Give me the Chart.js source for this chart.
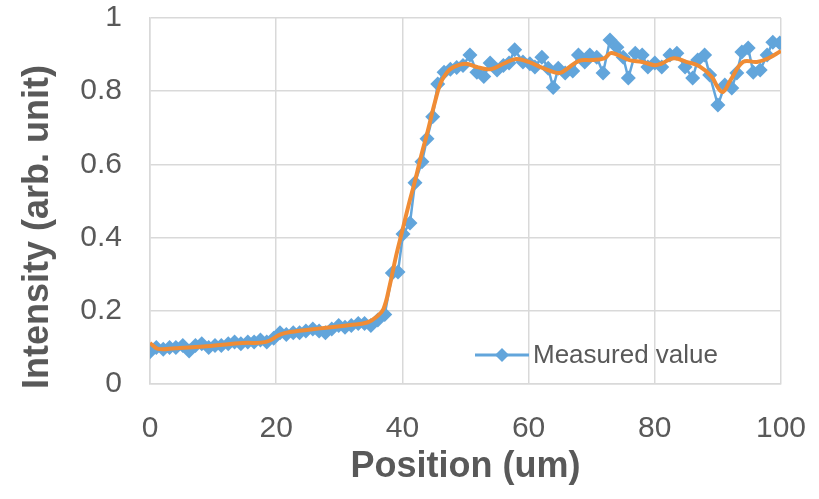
<!DOCTYPE html>
<html>
<head>
<meta charset="utf-8">
<script src="https://cdn.jsdelivr.net/npm/chart.js@4/dist/chart.umd.min.js"></script>
<style>
  html, body { margin: 0; padding: 0; background: #fff; }
  #wrap { width: 819px; height: 499px; position: relative; }
</style>
</head>
<body>
<div id="wrap"><canvas id="profile" width="819" height="499"></canvas></div>
<script>
// measured profile
const positions = [
  0, 1.0, 2.1, 3.1, 4.1, 5.2, 6.2, 7.2, 8.2, 9.3, 10.3, 11.3, 12.4, 13.4, 14.4, 15.5,
  16.5, 17.5, 18.5, 19.6, 20.6, 21.6, 22.7, 23.7, 24.7, 25.8, 26.8, 27.8, 28.8, 29.9,
  30.9, 31.9, 33.0, 34.0, 35.0, 36.1, 37.2, 38.4, 39.3, 40.1, 41.2, 42.0, 43.1, 43.9,
  44.8, 45.6, 46.6, 47.6, 48.6, 49.6, 50.7, 51.8, 52.9, 53.9, 55.0, 56.0, 56.9, 57.8,
  59.1, 60.2, 61.0, 62.1, 63.1, 63.9, 64.7, 65.8, 67.0, 67.9, 68.9, 69.7, 70.8, 71.8,
  72.9, 74.0, 75.0, 75.8, 76.9, 78.0, 78.9, 80.0, 81.1, 82.4, 83.5, 84.8, 86.0, 86.8,
  87.9, 88.7, 90.0, 91.1, 92.2, 93.0, 93.8, 94.8, 95.6, 96.7, 97.8, 98.7, 99.8
];
const intensity = [
  0.088, 0.100, 0.095, 0.100, 0.100, 0.105, 0.090, 0.105, 0.110, 0.100, 0.105, 0.105,
  0.110, 0.115, 0.110, 0.115, 0.115, 0.120, 0.115, 0.125, 0.140, 0.135, 0.140, 0.140,
  0.145, 0.150, 0.145, 0.140, 0.150, 0.160, 0.155, 0.160, 0.165, 0.165, 0.160, 0.175,
  0.190, 0.303, 0.306, 0.410, 0.440, 0.550, 0.607, 0.670, 0.730, 0.820, 0.852, 0.860,
  0.865, 0.870, 0.899, 0.852, 0.840, 0.877, 0.858, 0.870, 0.877, 0.913, 0.880, 0.875,
  0.866, 0.893, 0.863, 0.810, 0.863, 0.850, 0.855, 0.899, 0.880, 0.899, 0.893, 0.850,
  0.940, 0.920, 0.893, 0.836, 0.904, 0.899, 0.866, 0.877, 0.866, 0.899, 0.904, 0.866,
  0.836, 0.885, 0.899, 0.844, 0.762, 0.817, 0.809, 0.850, 0.907, 0.918, 0.852, 0.858,
  0.899, 0.934, 0.932
];

// smoothed curve (orange)
const trendPositions = [
  0, 1.3, 4, 9.5, 14.7, 18.4, 20.6, 22.2, 27, 31.7, 34.4, 36, 37, 38, 39, 40, 41, 42,
  43, 44, 45, 46, 47, 48, 50, 52, 54, 56, 58, 60, 62, 64, 65, 66, 68, 70, 72, 73, 74,
  76, 78, 80, 81, 83, 85, 87, 89, 90, 90.8, 92, 94, 96.2, 98, 100
];
const trendValues = [
  0.112, 0.096, 0.098, 0.104, 0.112, 0.115, 0.135, 0.142, 0.152, 0.161, 0.168, 0.185,
  0.205, 0.27, 0.35, 0.42, 0.49, 0.555, 0.625, 0.69, 0.76, 0.82, 0.85, 0.865, 0.875,
  0.865, 0.86, 0.875, 0.888, 0.88, 0.865, 0.852, 0.85, 0.86, 0.883, 0.885, 0.89, 0.904,
  0.9, 0.885, 0.88, 0.871, 0.875, 0.89, 0.88, 0.869, 0.84, 0.81, 0.798, 0.83, 0.88,
  0.88, 0.89, 0.91
];

const xTicks = [0, 20, 40, 60, 80, 100];
const yTicks = [0, 0.2, 0.4, 0.6, 0.8, 1];

const xTitle = 'Position (um)';
const yTitle = 'Intensity (arb. unit)';
const seriesName = 'Measured value';

const BLUE   = '#62a5db';
const ORANGE = '#f08c35';
const GRID   = '#d9d9d9';
const TEXT   = '#595959';
const FONT   = '"Liberation Sans", Arial, sans-serif';

// titles + legend drawn by hand so they sit where Excel put them
const decorations = {
  id: 'decorations',
  afterDraw(chart) {
    const { ctx, chartArea } = chart;
    ctx.save();
    ctx.fillStyle = TEXT;
    ctx.font = `bold 36px ${FONT}`;
    ctx.textAlign = 'center';
    ctx.textBaseline = 'middle';
    ctx.fillText(xTitle, (chartArea.left + chartArea.right) / 2, 467);

    ctx.translate(38, 227);
    ctx.rotate(-Math.PI / 2);
    ctx.fillText(yTitle, 0, 0);
    ctx.restore();

    // legend entry inside the plot
    ctx.save();
    const ly = 355;
    ctx.strokeStyle = BLUE;
    ctx.lineWidth = 3;
    ctx.beginPath();
    ctx.moveTo(475, ly);
    ctx.lineTo(529, ly);
    ctx.stroke();
    ctx.fillStyle = BLUE;
    ctx.beginPath();
    ctx.moveTo(502, ly - 7);
    ctx.lineTo(509, ly);
    ctx.lineTo(502, ly + 7);
    ctx.lineTo(495, ly);
    ctx.closePath();
    ctx.fill();
    ctx.fillStyle = TEXT;
    ctx.font = `26px ${FONT}`;
    ctx.textAlign = 'left';
    ctx.textBaseline = 'middle';
    ctx.fillText(seriesName, 533, ly + 1);
    ctx.restore();
  }
};

// keep tick labels from pushing the plot area around
const noOverhang = s => {
  s.paddingTop = 0; s.paddingBottom = 0;
  s.paddingLeft = 0; s.paddingRight = 0;
};

new Chart(document.getElementById('profile'), {
  type: 'line',
  data: {
    datasets: [
      {
        label: 'trend',
        data: trendPositions.map((x, i) => ({ x, y: trendValues[i] })),
        borderColor: ORANGE,
        borderWidth: 4,
        pointRadius: 0,
        tension: 0.4,
        fill: false,
        order: 0,
      },
      {
        label: seriesName,
        data: positions.map((x, i) => ({ x, y: intensity[i] })),
        borderColor: BLUE,
        backgroundColor: BLUE,
        borderWidth: 2.5,
        pointStyle: 'rectRot',
        pointRadius: 7.5,
        pointBorderWidth: 0,
        pointBackgroundColor: BLUE,
        tension: 0,
        fill: false,
        order: 1,
      }
    ]
  },
  options: {
    responsive: false,
    animation: false,
    layout: { padding: { top: 18, right: 38, left: 0, bottom: 0 } },
    plugins: {
      legend: { display: false },
      tooltip: { enabled: false },
    },
    scales: {
      x: {
        type: 'linear',
        min: 0,
        max: 100,
        afterBuildTicks: s => { s.ticks = xTicks.map(v => ({ value: v })); },
        afterFit: s => { s.height = 115; noOverhang(s); },
        grid: { color: GRID, lineWidth: 1.5, drawTicks: false },
        border: { color: GRID, width: 1.5 },
        ticks: {
          color: TEXT,
          font: { family: FONT, size: 30 },
          padding: 27,
          maxRotation: 0,
        },
      },
      y: {
        type: 'linear',
        min: 0,
        max: 1,
        afterBuildTicks: s => { s.ticks = yTicks.map(v => ({ value: v })); },
        afterFit: s => { s.width = 150; noOverhang(s); },
        grid: { color: GRID, lineWidth: 1.5, drawTicks: false },
        border: { color: GRID, width: 1.5 },
        ticks: {
          color: TEXT,
          font: { family: FONT, size: 30 },
          padding: 28,
          callback: v => String(Number(v.toFixed(1))),
        },
      }
    }
  },
  plugins: [decorations]
});
</script>
</body>
</html>
